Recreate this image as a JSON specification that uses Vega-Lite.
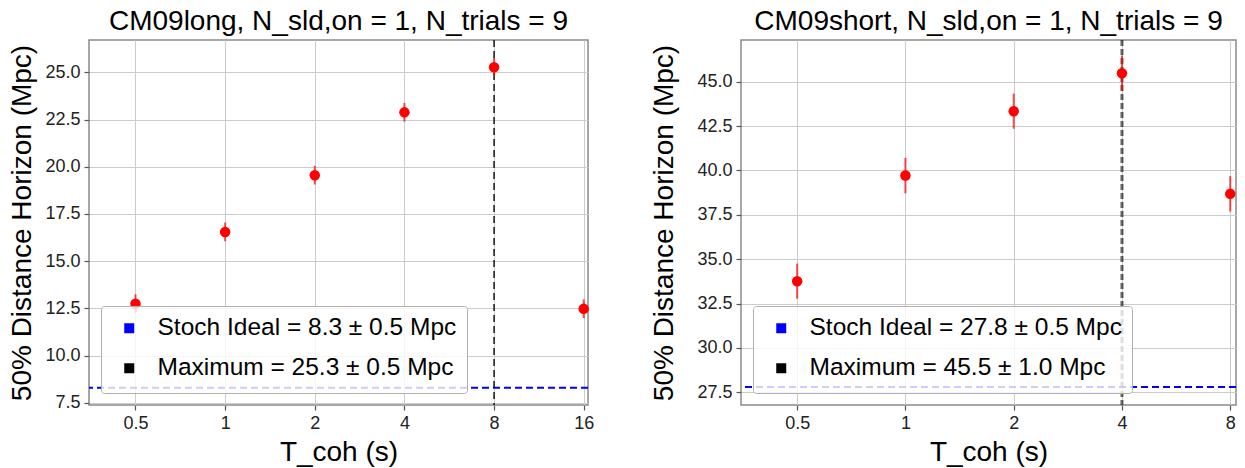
{
  "$schema": "https://vega.github.io/schema/vega-lite/v6.json",
  "background": "white",
  "padding": {"left": 8, "top": 6, "right": 5, "bottom": 0},
  "config": {
    "font": "Liberation Sans",
    "view": {"stroke": "#8a8a8a", "strokeWidth": 1.5},
    "axis": {
      "gridColor": "#cccccc", "gridWidth": 1, "domain": false,
      "tickColor": "#555555", "tickSize": 5, "tickWidth": 1.2,
      "labelFontSize": 18, "labelColor": "#222222", "labelPadding": 4,
      "titleFontSize": 28, "titleFontWeight": "normal", "titleColor": "#000000",
      "labelFont": "Liberation Sans", "titleFont": "Liberation Sans"
    },
    "title": {"fontSize": 28, "fontWeight": "normal", "font": "Liberation Sans", "offset": 3, "color": "#000000"},
    "legend": {
      "orient": "bottom-left", "offset": 12, "title": null,
      "fillColor": "rgba(255,255,255,0.8)", "strokeColor": "#b0b0b0", "cornerRadius": 3, "padding": 10,
      "labelFontSize": 24.5, "labelFont": "Liberation Sans", "labelColor": "#000000", "labelLimit": 600,
      "symbolType": "square", "symbolSize": 16, "symbolStrokeWidth": 6, "symbolDash": [], "symbolOpacity": 1,
      "symbolOffset": 6, "labelOffset": 16, "rowPadding": 11
    }
  },
  "datasets": {
    "long_pts": [
      {"t": 0.5, "d": 12.75, "lo": 12.27, "hi": 13.25},
      {"t": 1, "d": 16.55, "lo": 16.06, "hi": 17.05},
      {"t": 2, "d": 19.55, "lo": 19.06, "hi": 20.05},
      {"t": 4, "d": 22.88, "lo": 22.39, "hi": 23.38},
      {"t": 8, "d": 25.27, "lo": 24.78, "hi": 25.77},
      {"t": 16, "d": 12.48, "lo": 11.99, "hi": 12.98}
    ],
    "short_pts": [
      {"t": 0.5, "d": 33.75, "lo": 32.77, "hi": 34.75},
      {"t": 1, "d": 39.71, "lo": 38.71, "hi": 40.71},
      {"t": 2, "d": 43.33, "lo": 42.35, "hi": 44.33},
      {"t": 4, "d": 45.48, "lo": 44.48, "hi": 46.48},
      {"t": 8, "d": 38.68, "lo": 37.68, "hi": 39.68}
    ],
    "long_refs": [
      {"kind": "h", "label": "Stoch Ideal = 8.3 ± 0.5 Mpc", "value": 8.3},
      {"kind": "v", "label": "Maximum = 25.3 ± 0.5 Mpc", "value": 8}
    ],
    "short_refs": [
      {"kind": "h", "label": "Stoch Ideal = 27.8 ± 0.5 Mpc", "value": 27.8},
      {"kind": "v", "label": "Maximum = 45.5 ± 1.0 Mpc", "value": 4}
    ]
  },
  "spacing": 55,
  "resolve": {"scale": {"color": "independent", "x": "independent", "y": "independent"}, "legend": {"color": "independent"}},
  "hconcat": [
    {
      "width": 499, "height": 365,
      "title": "CM09long, N_sld,on = 1, N_trials = 9",
      "layer": [
        {
          "data": {"name": "long_refs"},
          "transform": [{"filter": "datum.kind === 'h'"}],
          "mark": {"type": "rule", "strokeDash": [7, 4], "strokeWidth": 2},
          "encoding": {
            "y": {"field": "value", "type": "quantitative", "scale": {"domain": [7.39, 26.71], "nice": false, "zero": false}},
            "color": {"field": "label", "type": "nominal", "scale": {"domain": ["Stoch Ideal = 8.3 ± 0.5 Mpc", "Maximum = 25.3 ± 0.5 Mpc"], "range": ["#0000ff", "#000000"]}}
          }
        },
        {
          "data": {"name": "long_refs"},
          "transform": [{"filter": "datum.kind === 'v'"}],
          "mark": {"type": "rule", "strokeDash": [7, 4], "strokeWidth": 1.6, "opacity": 0.85},
          "encoding": {
            "x": {"field": "value", "type": "quantitative", "scale": {"type": "log", "domain": [0.349, 16.54], "nice": false, "zero": false}},
            "color": {"field": "label", "type": "nominal"}
          }
        },
        {
          "data": {"name": "long_pts"},
          "mark": {"type": "rule", "color": "#ff0000", "strokeWidth": 2, "opacity": 0.7},
          "encoding": {
            "x": {"field": "t", "type": "quantitative"},
            "y": {"field": "lo", "type": "quantitative"},
            "y2": {"field": "hi"}
          }
        },
        {
          "data": {"name": "long_pts"},
          "mark": {"type": "point", "shape": "circle", "filled": true, "color": "#ff0000", "size": 110, "opacity": 1},
          "encoding": {
            "x": {"field": "t", "type": "quantitative", "axis": {"title": "T_coh (s)", "values": [0.5, 1, 2, 4, 8, 16], "format": "~g", "titlePadding": 6}},
            "y": {"field": "d", "type": "quantitative", "axis": {"title": "50% Distance Horizon (Mpc)", "values": [7.5, 10, 12.5, 15, 17.5, 20, 22.5, 25], "format": ".1f", "titlePadding": 8}}
          }
        }
      ]
    },
    {
      "width": 495, "height": 365,
      "title": "CM09short, N_sld,on = 1, N_trials = 9",
      "layer": [
        {
          "data": {"name": "short_refs"},
          "transform": [{"filter": "datum.kind === 'h'"}],
          "mark": {"type": "rule", "strokeDash": [7, 4], "strokeWidth": 2},
          "encoding": {
            "y": {"field": "value", "type": "quantitative", "scale": {"domain": [26.78, 47.35], "nice": false, "zero": false}},
            "color": {"field": "label", "type": "nominal", "scale": {"domain": ["Stoch Ideal = 27.8 ± 0.5 Mpc", "Maximum = 45.5 ± 1.0 Mpc"], "range": ["#0000ff", "#000000"]}}
          }
        },
        {
          "data": {"name": "short_refs"},
          "transform": [{"filter": "datum.kind === 'v'"}],
          "mark": {"type": "rule", "strokeDash": [6, 3], "strokeWidth": 3, "opacity": 0.6},
          "encoding": {
            "x": {"field": "value", "type": "quantitative", "scale": {"type": "log", "domain": [0.349, 8.3], "nice": false, "zero": false}},
            "color": {"field": "label", "type": "nominal"}
          }
        },
        {
          "data": {"name": "short_pts"},
          "mark": {"type": "rule", "color": "#ff0000", "strokeWidth": 2, "opacity": 0.7},
          "encoding": {
            "x": {"field": "t", "type": "quantitative"},
            "y": {"field": "lo", "type": "quantitative"},
            "y2": {"field": "hi"}
          }
        },
        {
          "data": {"name": "short_pts"},
          "mark": {"type": "point", "shape": "circle", "filled": true, "color": "#ff0000", "size": 110, "opacity": 1},
          "encoding": {
            "x": {"field": "t", "type": "quantitative", "axis": {"title": "T_coh (s)", "values": [0.5, 1, 2, 4, 8], "format": "~g", "titlePadding": 6}},
            "y": {"field": "d", "type": "quantitative", "axis": {"title": "50% Distance Horizon (Mpc)", "values": [27.5, 30, 32.5, 35, 37.5, 40, 42.5, 45], "format": ".1f", "titlePadding": 18}}
          }
        }
      ]
    }
  ]
}
